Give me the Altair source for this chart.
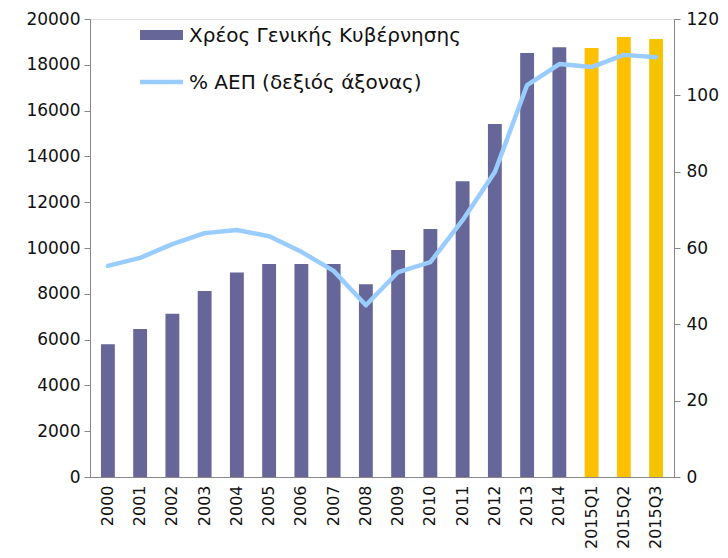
import altair as alt
import pandas as pd

categories = ["2000", "2001", "2002", "2003", "2004", "2005", "2006", "2007", "2008",
              "2009", "2010", "2011", "2012", "2013", "2014", "2015Q1", "2015Q2", "2015Q3"]
debt = [5800, 6460, 7130, 8120, 8930, 9300, 9300, 9300, 8420,
        9910, 10830, 12920, 15410, 18510, 18770, 18730, 19210, 19130]
pct_gdp = [55.3, 57.4, 61.0, 63.9, 64.7, 63.1, 59.0, 54.0, 45.0,
           53.7, 56.3, 67.3, 79.9, 102.7, 108.2, 107.4, 110.6, 110.0]
bar_colors = ["#666699"] * 15 + ["#FFC000", "#FFC000", "#F5C400"]

legend_labels = ["Χρέος Γενικής Κυβέρνησης", "% ΑΕΠ (δεξιός άξονας)"]

df = pd.DataFrame({"cat": categories, "debt": debt, "pct": pct_gdp, "color": bar_colors})

FONT = "DejaVu Sans"

x_enc = alt.X("cat:N", sort=categories, title=None,
              scale=alt.Scale(paddingInner=0.57, paddingOuter=0.34),
              axis=alt.Axis(labelAngle=-90, labelFontSize=16, labelFont=FONT, labelColor="#111",
                            ticks=False, domainColor="#888", labelPadding=8,
                            labelBaseline="middle", labelAlign="right"))

bars = alt.Chart(df).mark_bar().encode(
    x=x_enc,
    y=alt.Y("debt:Q", title=None,
            scale=alt.Scale(domain=[0, 20000], nice=False),
            axis=alt.Axis(values=list(range(0, 20001, 2000)), orient="left", grid=False,
                          format="d",
                          labelFontSize=17, labelFont=FONT, labelColor="#111",
                          domainColor="#888", tickColor="#888", tickSize=6, labelPadding=4)),
    color=alt.Color("color:N", scale=None),
)

line = alt.Chart(df).mark_line(color="#99CCFF", strokeWidth=4.5, strokeJoin="round",
                               strokeCap="round").encode(
    x=alt.X("cat:N", sort=categories),
    y=alt.Y("pct:Q", title=None,
            scale=alt.Scale(domain=[0, 120], nice=False),
            axis=alt.Axis(values=list(range(0, 121, 20)), orient="right", grid=False,
                          labelFontSize=17, labelFont=FONT, labelColor="#111",
                          domainColor="#888", tickColor="#888", tickSize=6, labelPadding=6)),
)

one = pd.DataFrame({"a": [0]})
leg_rect = alt.Chart(one).mark_rect(color="#666699").encode(
    x=alt.value(50), x2=alt.value(93), y=alt.value(11), y2=alt.value(21))
leg_line = alt.Chart(one).mark_rule(color="#99CCFF", strokeWidth=4.5).encode(
    x=alt.value(50), x2=alt.value(93), y=alt.value(63))
leg_t1 = alt.Chart(one).mark_text(text=legend_labels[0], align="left", baseline="middle",
                                  font=FONT, fontSize=20, color="#111").encode(
    x=alt.value(99), y=alt.value(17))
leg_t2 = alt.Chart(one).mark_text(text=legend_labels[1], align="left", baseline="middle",
                                  font=FONT, fontSize=20, color="#111").encode(
    x=alt.value(99), y=alt.value(64))

chart = alt.layer(bars, line, leg_rect, leg_line, leg_t1, leg_t2).resolve_scale(
    y="independent"
).properties(
    width=584, height=458,
    padding={"left": 82, "top": 11, "right": 46, "bottom": 73},
    autosize=alt.AutoSizeParams(type="none"),
).configure_view(stroke=None).configure(background="white")

chart.save("out.html", embed_options={"renderer": "svg", "actions": False})
